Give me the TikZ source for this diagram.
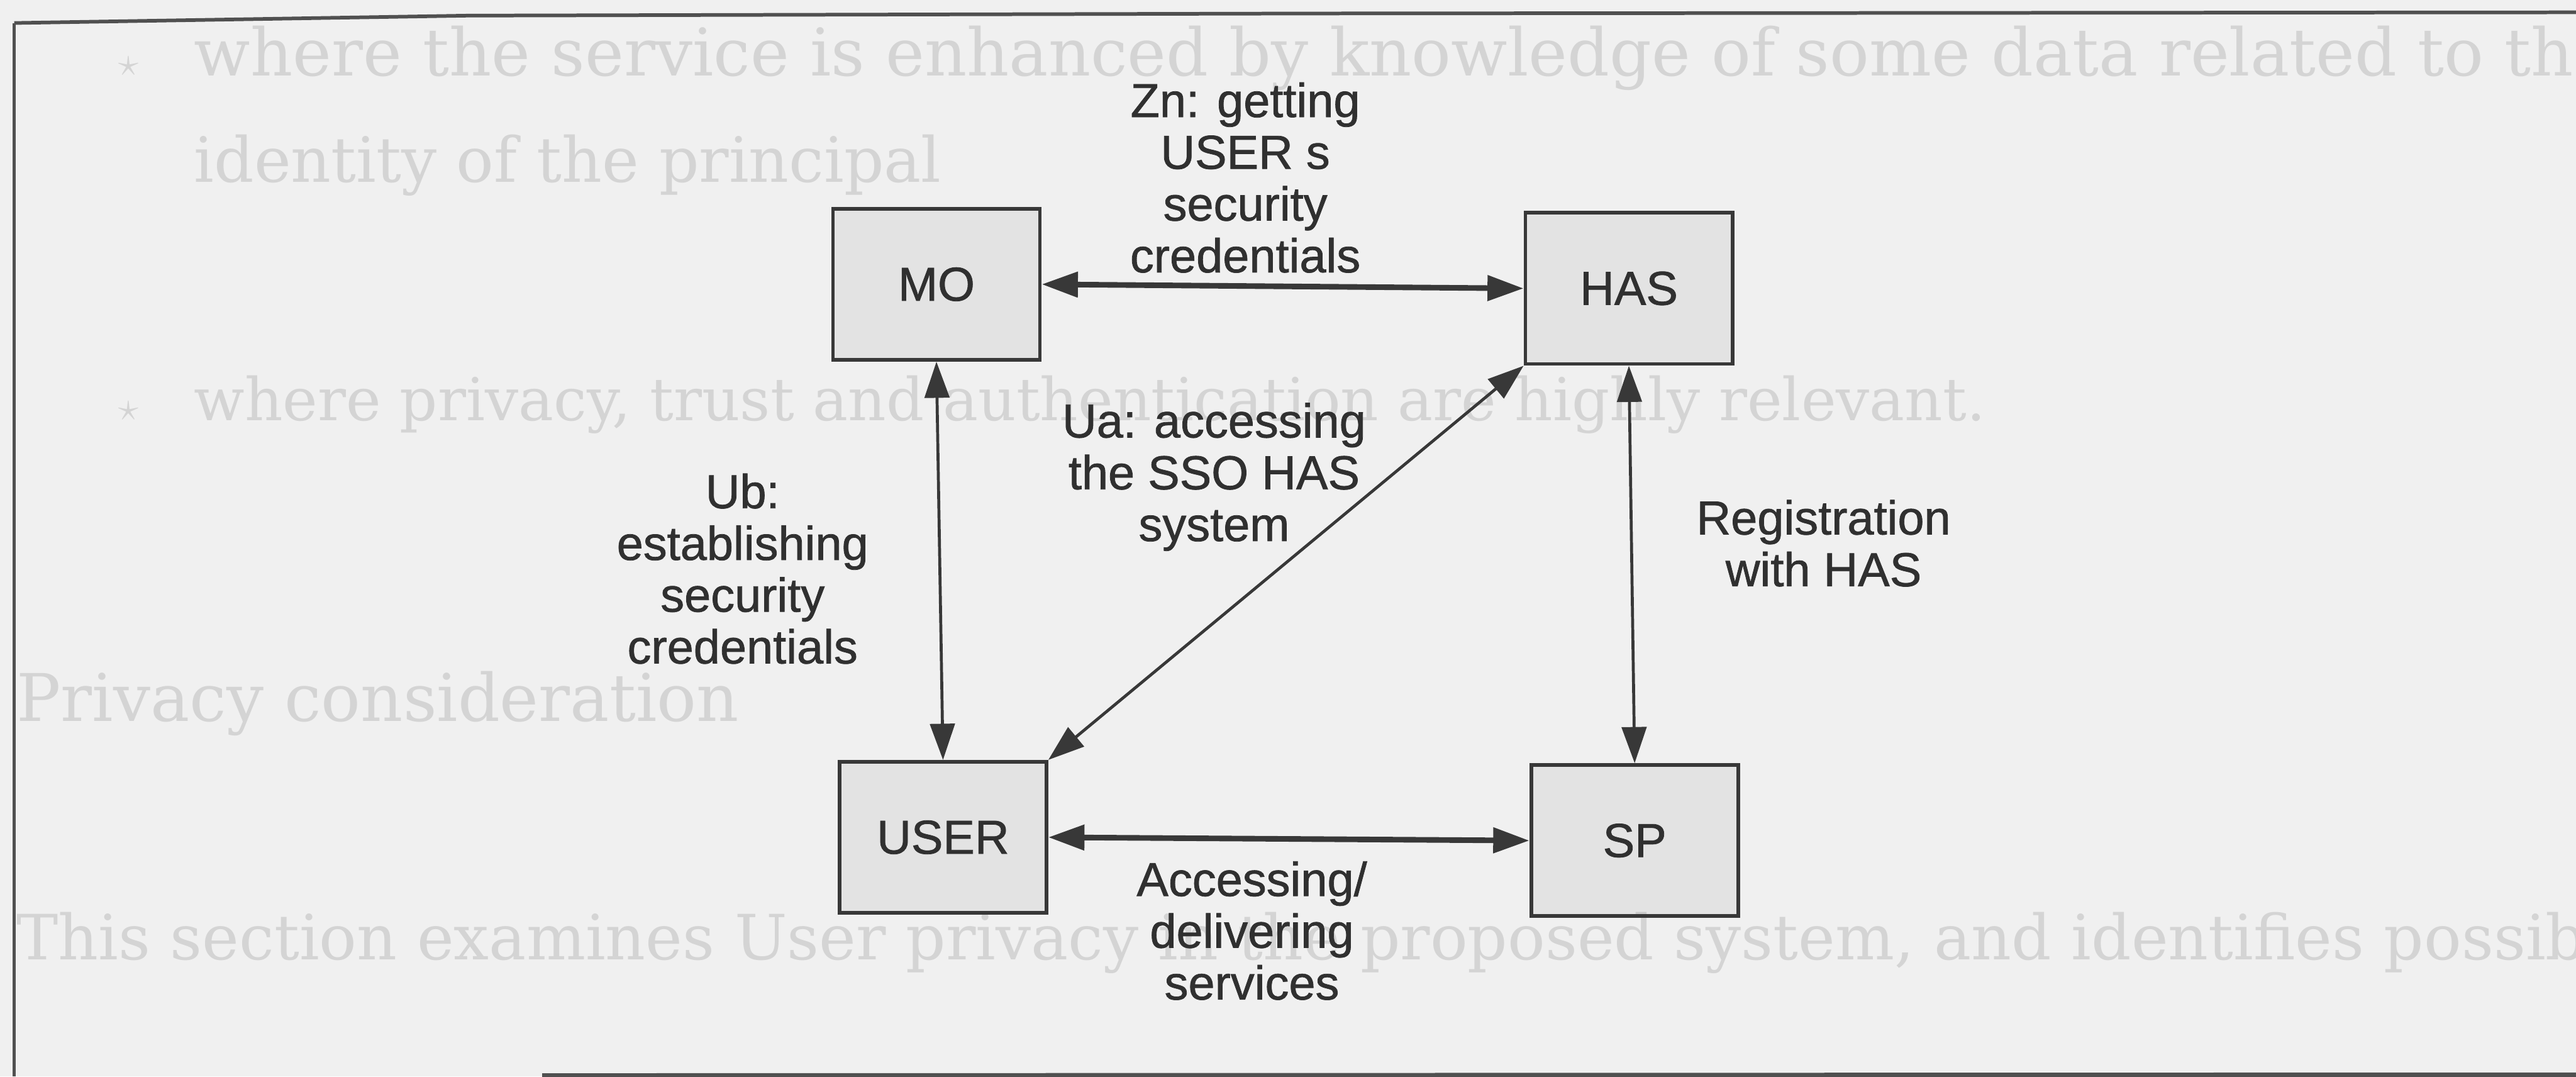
\documentclass[tikz,border=0pt]{standalone}
\usepackage{fontspec}
\newfontfamily\labelfamily{Liberation Sans}[FakeBold=1]
\newfontfamily\pagefamily{DejaVu Serif}
\usetikzlibrary{arrows.meta}

\definecolor{paper}{HTML}{F0F0F0}
\definecolor{ink}{HTML}{383838}
\definecolor{textink}{HTML}{303030}
\definecolor{ghost}{HTML}{D4D4D4}
\definecolor{rule}{HTML}{505050}

\newcommand\labeltext{\labelfamily\fontsize{29}{31.5}\selectfont}
\newcommand\ghosttext{\pagefamily\fontsize{38}{46}\selectfont}

\tikzset{
  entity/.style={draw=ink, line width=2.2pt, fill=black, fill opacity=0.05,
    text opacity=1, text=textink, minimum width=126pt, minimum height=92pt,
    inner sep=0pt, font=\labeltext},
  lbl/.style={align=center, anchor=north, inner sep=0pt, text=textink, font=\labeltext},
  link/.style={draw=ink, line width=1.8pt, <->},
  heavylink/.style={link, line width=3.4pt},
  ghostline/.style={anchor=base west, inner sep=0pt, text=ghost, font=\ghosttext},
}

\begin{document}
\begin{tikzpicture}[x=1pt, y=-1pt, >={Triangle[length=22pt,width=15pt]}]
  % page and clipping
  \useasboundingbox (0,0) rectangle (1568,655.1);
  \clip (0,0) rectangle (1568,655.1);
  \fill[paper] (0,0) rectangle (1568,655.1);

  % faint text of the surrounding page
  \node[ghostline] (b1) at (72,46) {$\star$};
  \node[ghostline, font=\pagefamily\fontsize{40}{46}\selectfont] (g1) at (118,46) {where the service is enhanced by knowledge of some data related to th};
  \node[ghostline] (g2) at (118,111) {identity of the principal};
  \node[ghostline] (b3) at (72,256) {$\star$};
  \node[ghostline, font=\pagefamily\fontsize{36}{46}\selectfont] (g3) at (118,256) {where privacy, trust and authentication are highly relevant.};
  \node[ghostline, font=\pagefamily\fontsize{40}{46}\selectfont] (g4) at (10,439) {Privacy consideration};
  \node[ghostline] (g5) at (10,584) {This section examines User privacy in the proposed system, and identifies possib};

  % frame of the figure
  \draw[rule, line width=2.2pt] (8.7,14) -- (285,9.5) -- (800,8.2) -- (1568,7.5);
  \draw[rule, line width=1.8pt] (8.7,14) -- (8.7,655.1);
  \draw[rule, line width=3pt] (330,654.6) -- (1568,654.1);

  % entities
  \node[entity] (mo)   at (570,173)   {MO};
  \node[entity] (has)  at (991.5,175.5) {HAS};
  \node[entity] (user) at (574,509.5) {USER};
  \node[entity] (sp)   at (995,511.5) {SP};

  % interfaces
  \draw[heavylink] (mo.east) -- (has.west);
  \draw[heavylink] (user.east) -- (sp.west);
  \draw[link] (mo.south) -- (user.north);
  \draw[link] (has.south) -- (sp.north);
  \draw[link] (user.north east) -- (has.south west);

  % interface labels
  \node[lbl] (zn)  at (758,50)   {Zn: getting\\USER s\\security\\credentials};
  \node[lbl] (ub)  at (452,288)  {Ub:\\establishing\\security\\credentials};
  \node[lbl] (ua)  at (739,245)  {Ua: accessing\\the SSO HAS\\system};
  \node[lbl] (reg) at (1110,304) {Registration\\with HAS};
  \node[lbl] (acc) at (762,524)  {Accessing/\\delivering\\services};
\end{tikzpicture}
\end{document}
